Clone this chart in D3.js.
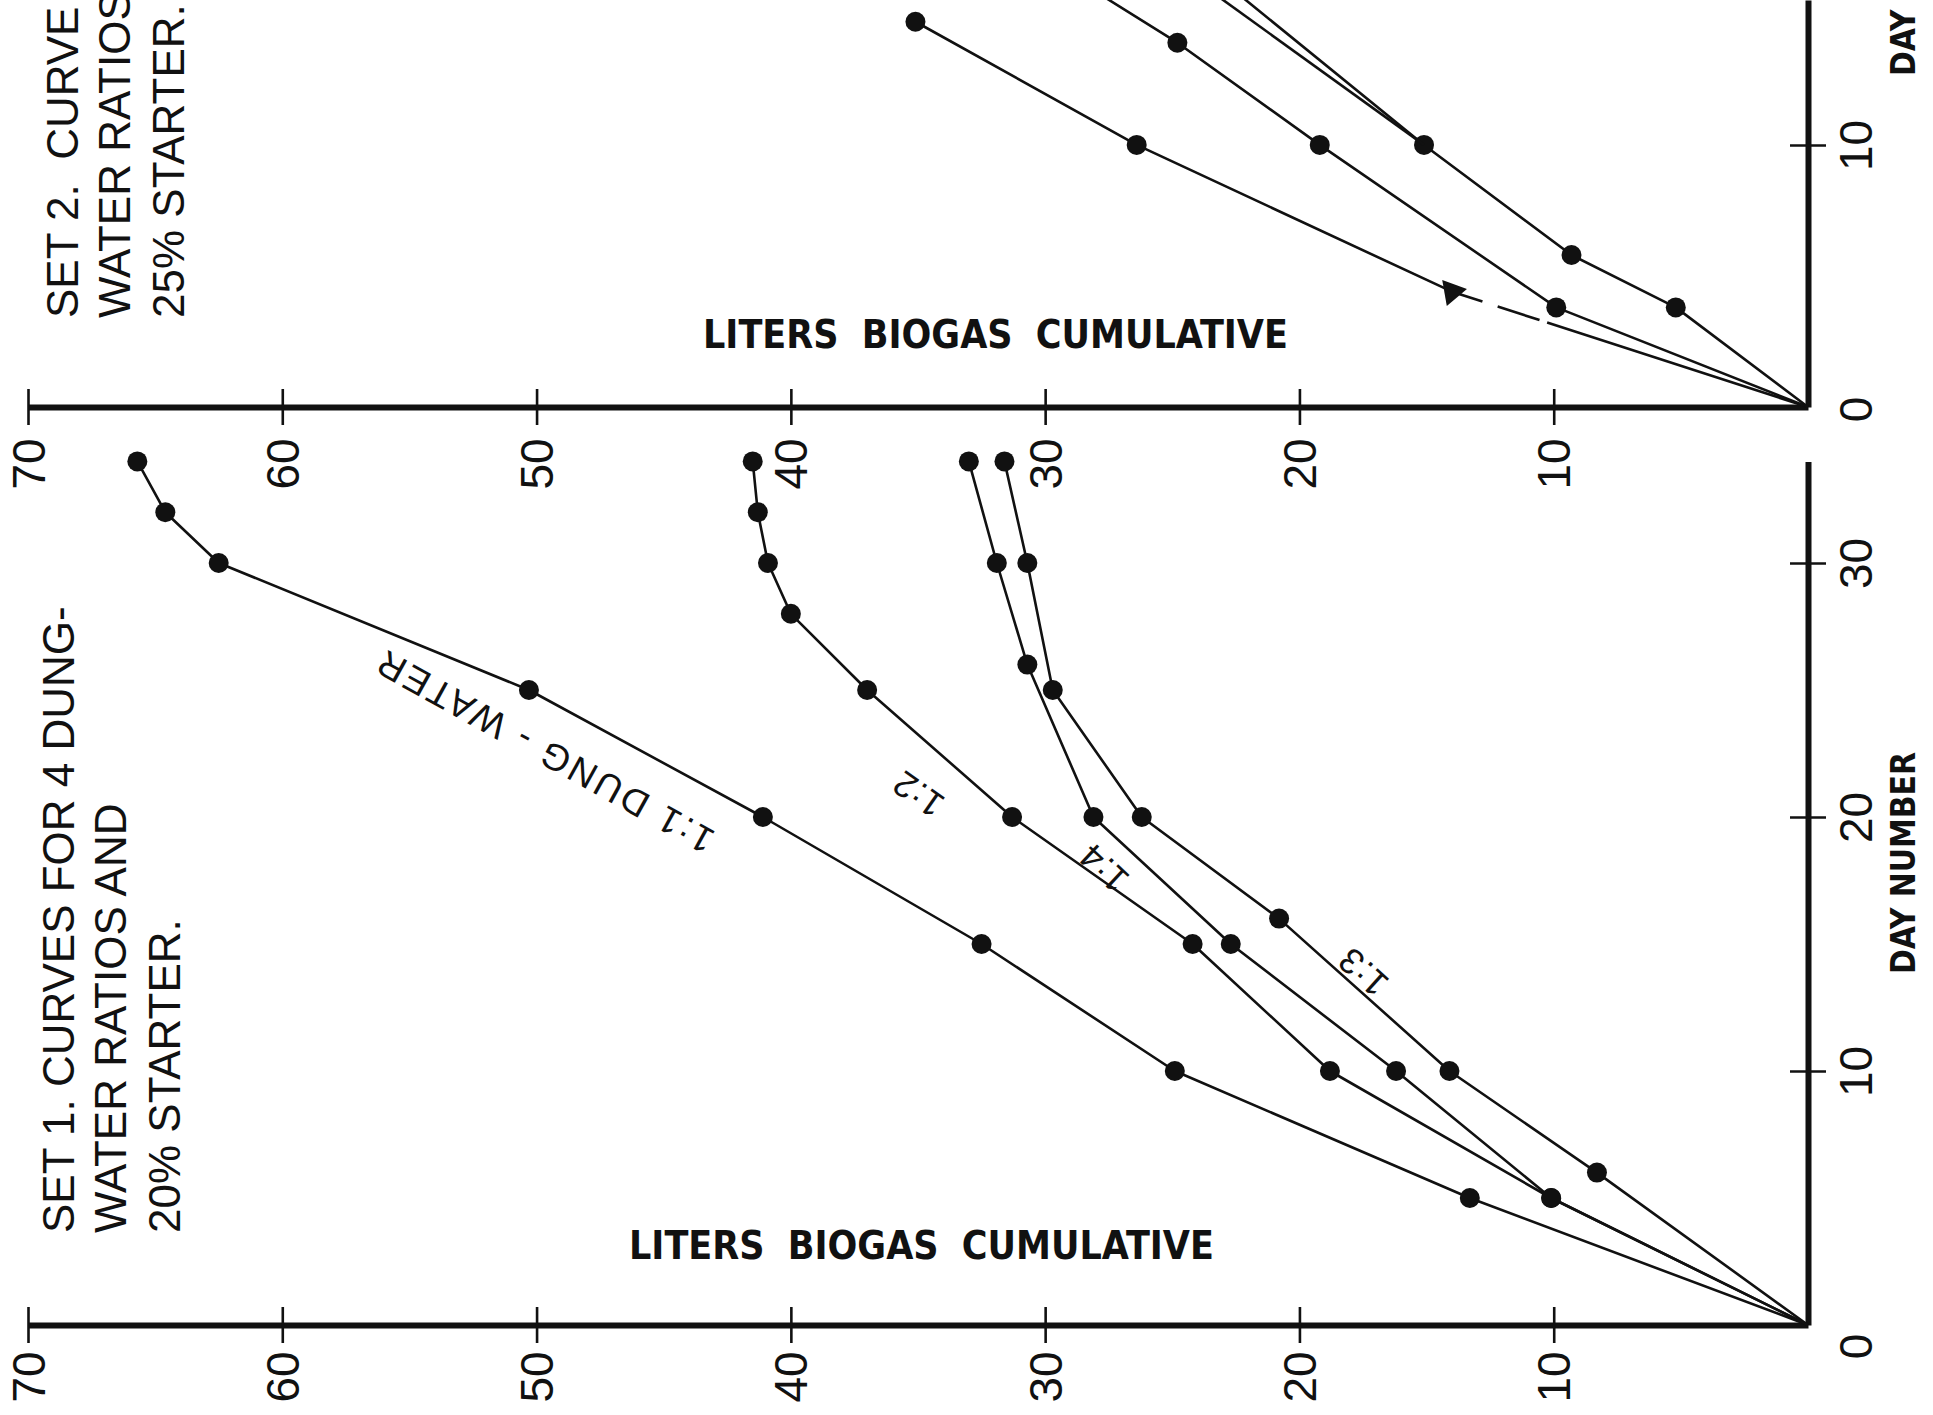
<!DOCTYPE html>
<html><head><meta charset="utf-8">
<script src="https://cdn.jsdelivr.net/npm/d3@7"></script>
<style>
html,body{margin:0;padding:0;background:#fff;overflow:hidden}
svg{display:block}
</style></head><body>
<svg id="chart" width="1933" height="1415"></svg>
<script>
// ---------- data ----------
const litersTicks = [10, 20, 30, 40, 50, 60, 70];
const set1DayTicks = [0, 10, 20, 30];
const set2DayTicks = [0, 10];

// SET 1 (20% starter)
const set1Days_1to1   = [0, 5, 10, 15, 20, 25, 30, 32, 34];
const set1Liters_1to1 = [0, 13.3, 24.9, 32.5, 41.1, 50.3, 62.5, 64.6, 65.7];
const set1Days_1to2   = [0, 5, 10, 15, 20, 25, 28, 30, 32, 34];
const set1Liters_1to2 = [0, 10.1, 18.8, 24.2, 31.3, 37.0, 40.0, 40.9, 41.3, 41.5];
const set1Days_1to3   = [0, 6, 10, 16, 20, 25, 30, 34];
const set1Liters_1to3 = [0, 8.3, 14.1, 20.8, 26.2, 29.7, 30.7, 31.6];
const set1Days_1to4   = [0, 5, 10, 15, 20, 26, 30, 34];
const set1Liters_1to4 = [0, 10.1, 16.2, 22.7, 28.1, 30.7, 31.9, 33.0];

// SET 2 (25% starter) - markers: "dot", "triangle" or "none"
const set2DaysA    = [0, 4.4, 10, 14.7];
const set2LitersA  = [0, 14.0, 26.4, 35.1];
const set2MarksA   = ["none", "triangle", "dot", "dot"];
const set2DaysB    = [0, 3.8, 10, 13.9, 15.6];
const set2LitersB  = [0, 9.9, 19.2, 24.8, 27.6];
const set2MarksB   = ["none", "dot", "dot", "dot", "none"];
const set2DaysC    = [0, 3.8, 5.8, 10, 15.6];
const set2LitersC  = [0, 5.2, 9.3, 15.1, 22.2];
const set2MarksC   = ["none", "dot", "dot", "dot", "none"];
const set2DaysD    = [10, 15.6];
const set2LitersD  = [15.1, 23.1];
const set2MarksD   = ["none", "none"];

// ---------- drawing ----------
const INK = "#111";
const SANS = '"Liberation Sans", Arial, Helvetica, sans-serif';
const NARROW = '"Liberation Sans Narrow", "Arial Narrow", "DejaVu Sans Condensed", sans-serif';
const svg = d3.select("#chart");
svg.append("rect").attr("width", 1933).attr("height", 1415).attr("fill", "#fff");

const xL = d3.scaleLinear().domain([0, 70]).range([1808, 28]);
const y1 = d3.scaleLinear().domain([0, 34]).range([1325, 1325 - 34 * 25.4]);
const y2 = d3.scaleLinear().domain([0, 15.53]).range([407, 0]);

function valueAxis(yScale, labelOffset) {
  const g = svg.append("g").attr("transform", `translate(0,${yScale(0)})`)
    .call(d3.axisBottom(xL).tickValues(litersTicks).tickSizeInner(18).tickSizeOuter(0).tickPadding(0));
  g.attr("font-size", 46).attr("font-family", SANS);
  g.select(".domain").attr("stroke", INK).attr("stroke-width", 6);
  g.selectAll(".tick line").attr("y1", -18).attr("y2", 18).attr("stroke", INK).attr("stroke-width", 2.6);
  g.selectAll(".tick text").attr("x", 0).attr("y", 0).attr("dy", null)
    .attr("fill", INK)
    .attr("transform", `translate(16,${labelOffset}) rotate(-90)`)
    .attr("text-anchor", "middle");
}
function dayAxis(yScale, ticks, zeroShift) {
  const g = svg.append("g").attr("transform", `translate(${xL(0)},0)`)
    .call(d3.axisRight(yScale).tickValues(ticks).tickSizeInner(18).tickSizeOuter(0).tickPadding(0));
  g.attr("font-size", 46).attr("font-family", SANS);
  g.select(".domain").attr("stroke", INK).attr("stroke-width", 6);
  g.selectAll(".tick line").attr("x1", -18).attr("x2", 18).attr("stroke", INK).attr("stroke-width", 2.6)
    .attr("display", d => d === 0 ? "none" : null);
  g.selectAll(".tick text").attr("x", 0).attr("y", 0).attr("dy", null)
    .attr("fill", INK)
    .attr("transform", d => `translate(64,${d === 0 ? zeroShift : 0}) rotate(-90)`)
    .attr("text-anchor", "middle");
}

valueAxis(y1, 52);
dayAxis(y1, set1DayTicks, 21);
valueAxis(y2, 57);
dayAxis(y2, set2DayTicks, 2);

function drawSeries(yScale, days, liters, marks) {
  const pts = days.map((d, i) => ({ d, l: liters[i], m: marks ? marks[i] : (d === 0 ? "none" : "dot") }));
  const line = d3.line().x(p => xL(p.l)).y(p => yScale(p.d));
  const path = svg.append("path").datum(pts).attr("d", line)
    .attr("fill", "none").attr("stroke", INK).attr("stroke-width", 2.6).attr("stroke-linejoin", "round");
  svg.append("g").selectAll("circle").data(pts.filter(p => p.m === "dot")).join("circle")
    .attr("cx", p => xL(p.l)).attr("cy", p => yScale(p.d)).attr("r", 10).attr("fill", INK);
  svg.append("g").selectAll("path").data(pts.filter(p => p.m === "triangle")).join("path")
    .attr("d", d3.symbol(d3.symbolTriangle, 300))
    .attr("transform", p => `translate(${xL(p.l)},${yScale(p.d)}) rotate(-40)`)
    .attr("fill", INK);
  return { path, pts };
}

drawSeries(y1, set1Days_1to1, set1Liters_1to1);
drawSeries(y1, set1Days_1to2, set1Liters_1to2);
drawSeries(y1, set1Days_1to3, set1Liters_1to3);
drawSeries(y1, set1Days_1to4, set1Liters_1to4);

const sA = drawSeries(y2, set2DaysA, set2LitersA, set2MarksA);
// broken stroke just below the triangle marker
{
  const p0 = sA.pts[0], p1 = sA.pts[1];
  const L = Math.hypot(xL(p1.l) - xL(p0.l), y2(p1.d) - y2(p0.d));
  sA.path.attr("stroke-dasharray", `${L - 100} 8 44 16 2000`);
}
drawSeries(y2, set2DaysB, set2LitersB, set2MarksB);
drawSeries(y2, set2DaysC, set2LitersC, set2MarksC);
drawSeries(y2, set2DaysD, set2LitersD, set2MarksD);

// ---------- ratio labels ----------
const curveLabels = [
  { text: "1:1 DUNG - WATER", d: 22.6, l: 49.7, angle: 209, size: 37, spacing: 3 },
  { text: "1:2", d: 20.9, l: 35.0, angle: 215, size: 36, spacing: 1 },
  { text: "1:4", d: 18.0, l: 27.7, angle: 223, size: 36, spacing: 1 },
  { text: "1:3", d: 13.9, l: 17.5, angle: 222, size: 36, spacing: 1 }
];
svg.append("g").selectAll("text").data(curveLabels).join("text")
  .attr("transform", c => `translate(${xL(c.l)},${y1(c.d)}) rotate(${c.angle})`)
  .attr("text-anchor", "middle").attr("dominant-baseline", "central")
  .attr("font-family", SANS).attr("font-size", c => c.size).attr("letter-spacing", c => c.spacing)
  .attr("fill", INK)
  .text(c => c.text);

// ---------- titles ----------
function rotText(x, y, str, size, family, weight) {
  return svg.append("text").attr("transform", `translate(${x},${y}) rotate(-90)`)
    .attr("font-family", family).attr("font-size", size).attr("font-weight", weight || "normal")
    .attr("fill", INK).style("white-space", "pre").text(str);
}
const set1Title = ["SET 1. CURVES FOR 4 DUNG-", "WATER RATIOS AND", "20% STARTER."];
const set2Title = ["SET 2.  CURVE", "WATER RATIOS", "25% STARTER."];
[74, 126, 180].forEach((bx, i) => rotText(bx, 1233, set1Title[i], 44, SANS));
[78, 130, 184].forEach((bx, i) => rotText(bx, 318, set2Title[i], 44, SANS));

// axis titles
function fitWords(t, target) {
  const len = t.node().getComputedTextLength();
  const gaps = (t.text().match(/ /g) || []).length;
  if (len < target && gaps) t.attr("word-spacing", (target - len) / gaps);
  else if (len > target) t.attr("font-size", parseFloat(t.attr("font-size")) * target / len);
}
const axisTitle = "LITERS BIOGAS CUMULATIVE";
const at1 = svg.append("text").attr("x", 629).attr("y", 1259).attr("font-family", NARROW)
  .attr("font-size", 39).attr("font-weight", "bold").attr("fill", INK).text(axisTitle);
fitWords(at1, 585);
const at2 = svg.append("text").attr("x", 703).attr("y", 348).attr("font-family", NARROW)
  .attr("font-size", 39).attr("font-weight", "bold").attr("fill", INK).text(axisTitle);
fitWords(at2, 585);
const dn1 = rotText(1915, 974, "DAY NUMBER", 37, NARROW, "bold");
fitWords(dn1, 222);
const dn2 = rotText(1915, 76, "DAY NUMBER", 37, NARROW, "bold");
dn2.attr("font-size", dn1.attr("font-size"));
</script>
</body></html>
